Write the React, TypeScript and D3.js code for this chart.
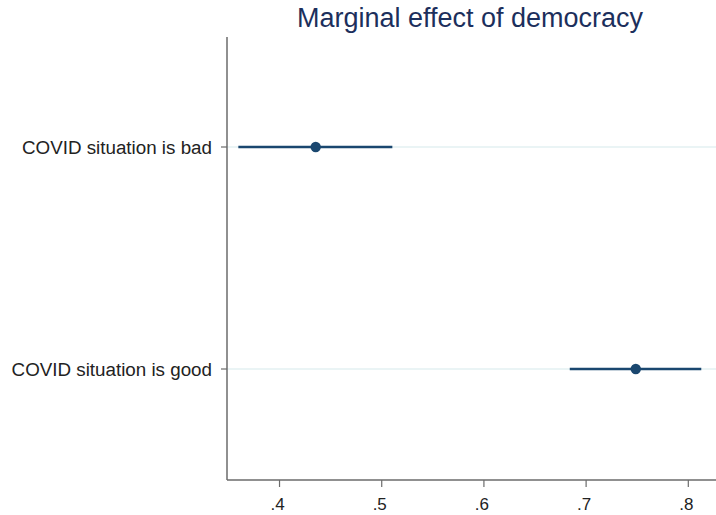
import React from 'react';
import * as d3 from 'd3';

const categories = ['COVID situation is bad', 'COVID situation is good'];
const estimates = [0.4354, 0.7486];
const lowerBounds = [0.3597, 0.684];
const upperBounds = [0.5104, 0.8127];
const xTicks = [0.4, 0.5, 0.6, 0.7, 0.8];
const title = 'Marginal effect of democracy';

export default function App() {
  const width = 716;
  const height = 515;
  const margin = { top: 37, right: 0, bottom: 35, left: 227 };
  const innerW = width - margin.left - margin.right;
  const innerH = height - margin.top - margin.bottom;

  const x = d3.scaleLinear().domain([0.3486, 0.8271]).range([0, innerW]);
  const y = d3.scalePoint<string>().domain(categories).range([110, 332]);

  const navy = '#1a476f';
  const axisColor = '#6b6b6b';
  const font = 'Liberation Sans, Arial, sans-serif';

  return (
    <svg width={width} height={height} style={{ position: 'absolute', left: 0, top: 0, background: '#fff' }}>
      <text x={470} y={27} textAnchor="middle" fontFamily={font} fontSize={27} fill="#1c2f5c">
        {title}
      </text>
      <g transform={`translate(${margin.left},${margin.top})`}>
        {categories.map(c => (
          <line key={'g' + c} x1={0} x2={innerW} y1={y(c)} y2={y(c)} stroke="#e3f0f2" strokeWidth={1.5} />
        ))}
        <line x1={0} x2={0} y1={0} y2={innerH} stroke={axisColor} strokeWidth={1.5} />
        <line x1={0} x2={innerW} y1={innerH} y2={innerH} stroke={axisColor} strokeWidth={1.5} />
        {categories.map(c => (
          <g key={'l' + c}>
            <line x1={-6} x2={0} y1={y(c)} y2={y(c)} stroke={axisColor} strokeWidth={1.2} />
            <text x={-15} y={(y(c) || 0) + 6.5} textAnchor="end" fontFamily={font} fontSize={18.8} fill="#222">
              {c}
            </text>
          </g>
        ))}
        {xTicks.map(t => (
          <g key={'t' + t}>
            <line x1={x(t)} x2={x(t)} y1={innerH} y2={innerH + 7} stroke={axisColor} strokeWidth={1.2} />
            <text x={x(t) - 2} y={innerH + 30} textAnchor="middle" fontFamily={font} fontSize={17} fill="#222">
              {d3.format('.1f')(t).replace(/^0/, '')}
            </text>
          </g>
        ))}
        {categories.map((c, i) => (
          <g key={'m' + c}>
            <line x1={x(lowerBounds[i])} x2={x(upperBounds[i])} y1={y(c)} y2={y(c)} stroke={navy} strokeWidth={2.4} />
            <circle cx={x(estimates[i])} cy={y(c)} r={5.2} fill={navy} />
          </g>
        ))}
      </g>
    </svg>
  );
}
